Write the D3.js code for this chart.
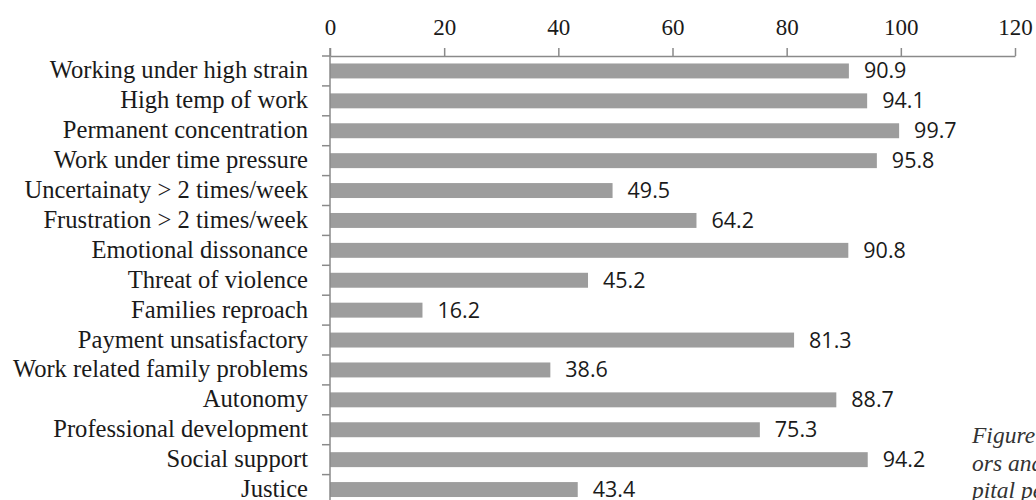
<!DOCTYPE html>
<html>
<head>
<meta charset="utf-8">
<script src="https://cdn.jsdelivr.net/npm/d3@7"></script>
<style>
  html, body { margin: 0; padding: 0; background: #fff; overflow: hidden; }
  svg { display: block; }
</style>
</head>
<body>
<svg></svg>
<script>
const categories = [
  'Working under high strain',
  'High temp of work',
  'Permanent concentration',
  'Work under time pressure',
  'Uncertainaty > 2 times/week',
  'Frustration > 2 times/week',
  'Emotional dissonance',
  'Threat of violence',
  'Families reproach',
  'Payment unsatisfactory',
  'Work related family problems',
  'Autonomy',
  'Professional development',
  'Social support',
  'Justice'
]
const values = [90.9, 94.1, 99.7, 95.8, 49.5, 64.2, 90.8, 45.2, 16.2, 81.3, 38.6, 88.7, 75.3, 94.2, 43.4]
const xTicks = [0, 20, 40, 60, 80, 100, 120]
const captionLines = ['Figure 1. Stress fact', 'ors and resources of hos', 'pital personnel']

const graphWidth = 1036
const graphHeight = 500
const plotLeft = 330
const plotRight = 1015
const plotTop = 56
const plotBottom = 504.5
const axisColor = '#8a8a8a'

const svg = d3.select('svg')
              .attr('width', graphWidth)
              .attr('height', graphHeight)

const xScale = d3.scaleLinear()
                 .domain([0, 120])
                 .range([plotLeft, plotRight])

const yScale = d3.scaleBand()
                 .domain(categories)
                 .range([plotTop, plotBottom])
                 .paddingInner(0.5)
                 .paddingOuter(0.25)

const data = categories.map((c, i) => ({ name: c, value: values[i] }))

// bars
svg.append('g')
   .selectAll('rect')
   .data(data)
   .join('rect')
   .attr('x', xScale(0))
   .attr('y', d => yScale(d.name))
   .attr('width', d => xScale(d.value) - xScale(0))
   .attr('height', yScale.bandwidth())
   .attr('fill', '#9d9d9d')

// value labels
svg.append('g')
   .selectAll('text')
   .data(data)
   .join('text')
   .attr('x', d => xScale(d.value) + 15)
   .attr('y', d => yScale(d.name) + yScale.bandwidth() / 2 + 7.5)
   .text(d => d.value.toFixed(1))
   .style('font-family', '"Open Sans", sans-serif')
   .style('font-size', '21.5px')
   .attr('fill', '#1a1a1a')

// top axis
const xAxis = d3.axisTop(xScale)
                .tickValues(xTicks)
                .tickSize(8)
                .tickSizeOuter(0)
                .tickPadding(13)

const gx = svg.append('g')
              .attr('transform', `translate(0, ${plotTop})`)
              .call(xAxis)
gx.select('.domain').attr('stroke', axisColor).attr('stroke-width', 1.5)
gx.selectAll('.tick line').attr('stroke', axisColor).attr('stroke-width', 1.5)
gx.selectAll('.tick text')
  .attr('fill', '#1a1a1a')
  .style('font-family', '"Liberation Serif", "Times New Roman", serif')
  .style('font-size', '23px')

// left axis line and boundary ticks
const gy = svg.append('g')
gy.append('line')
  .attr('x1', plotLeft).attr('x2', plotLeft)
  .attr('y1', plotTop - 8).attr('y2', graphHeight + 10)
  .attr('stroke', axisColor)
  .attr('stroke-width', 1.5)

const step = yScale.step()
gy.selectAll('line.tick')
  .data(categories)
  .join('line')
  .attr('class', 'tick')
  .attr('x1', plotLeft - 8).attr('x2', plotLeft)
  .attr('y1', d => yScale(d) - step * 0.25)
  .attr('y2', d => yScale(d) - step * 0.25)
  .attr('stroke', axisColor)
  .attr('stroke-width', 1.5)

// category labels
svg.append('g')
   .selectAll('text')
   .data(categories)
   .join('text')
   .attr('x', plotLeft - 22)
   .attr('y', d => yScale(d) + yScale.bandwidth() / 2 + 7.5)
   .attr('text-anchor', 'end')
   .text(d => d)
   .attr('fill', '#1a1a1a')
   .style('font-family', '"Liberation Serif", "Times New Roman", serif')
   .style('font-size', '24.6px')

// caption fragment at right edge
svg.append('g')
   .selectAll('text')
   .data(captionLines)
   .join('text')
   .attr('x', 972)
   .attr('y', (d, i) => 443 + i * 27.5)
   .text(d => d)
   .attr('fill', '#333')
   .style('font-family', '"Liberation Serif", serif')
   .style('font-style', 'italic')
   .style('font-size', '23.5px')
</script>
</body>
</html>
